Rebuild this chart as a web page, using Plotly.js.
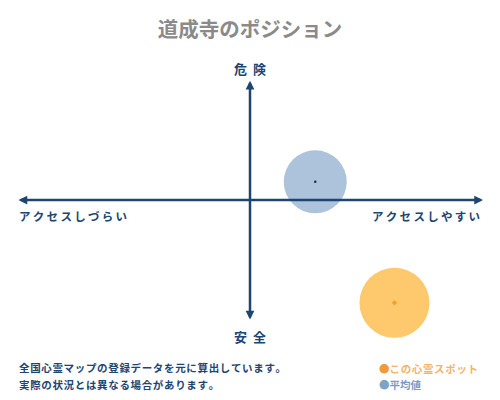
<!DOCTYPE html>
<html>
<head>
<meta charset="utf-8">
<script src="https://cdn.plot.ly/plotly-3.0.1.min.js"></script>
<style>
html,body{margin:0;padding:0;background:#fff;}
#chart{width:500px;height:400px;}
</style>
</head>
<body>
<div id="chart"></div>
<script>
// ---- data ----
const chartTitle = "道成寺のポジション";
const axisTop = "危険";
const axisBottom = "安全";
const axisLeft = "アクセスしづらい";
const axisRight = "アクセスしやすい";
const seriesNames = ["この心霊スポット", "平均値"];
const spotX = [0.62];
const spotY = [-0.85];
const avgX = [0.28];
const avgY = [0.15];
const noteLines = ["全国心霊マップの登録データを元に算出しています。", "実際の状況とは異なる場合があります。"];

// ---- style ----
const FONT = "'Noto Sans CJK JP', 'Noto Sans', sans-serif";
const NAVY = "#1c4571";
const spread = (s, sep) => Array.from(s).join(sep);

const traces = [
  {x: avgX, y: avgY, type: "scatter", mode: "markers", name: seriesNames[1],
   marker: {size: 63, color: "#adc2db", line: {width: 0}}, hoverinfo: "skip", showlegend: false},
  {x: avgX, y: avgY, type: "scatter", mode: "markers",
   marker: {size: 2.5, color: "#1c2d44"}, hoverinfo: "skip", showlegend: false},
  {x: spotX, y: spotY, type: "scatter", mode: "markers", name: seriesNames[0],
   marker: {size: 70, color: "#fdc96c", line: {width: 0}}, hoverinfo: "skip", showlegend: false},
  {x: spotX, y: spotY, type: "scatter", mode: "markers",
   marker: {size: 4, color: "#f5a020", symbol: "diamond"}, hoverinfo: "skip", showlegend: false}
];

const arrowCommon = {showarrow: true, arrowhead: 2, arrowsize: 0.7, arrowwidth: 2.5,
  arrowcolor: NAVY, arrowside: "end+start", text: "", axref: "x", ayref: "y", standoff: 0, startstandoff: 0};

const annotations = [
  Object.assign({x: 0, y: 0.985, ax: 0, ay: -1.0}, arrowCommon),
  Object.assign({x: 1.0, y: 0, ax: -1.0, ay: 0}, arrowCommon),
  {xref: "paper", yref: "paper", x: 0.5, y: 1 - 68/400, text: "<b>" + spread(axisTop, "  ") + "</b>",
   showarrow: false, font: {family: FONT, size: 13, color: NAVY}, xanchor: "center", yanchor: "middle"},
  {xref: "paper", yref: "paper", x: 0.5, y: 1 - 336/400, text: "<b>" + spread(axisBottom, "  ") + "</b>",
   showarrow: false, font: {family: FONT, size: 13, color: NAVY}, xanchor: "center", yanchor: "middle"},
  {xref: "paper", yref: "paper", x: 17/500, y: 1 - 216/400, text: "<b>" + spread(axisLeft, "\u2009") + "</b>",
   showarrow: false, font: {family: FONT, size: 11.5, color: NAVY}, xanchor: "left", yanchor: "middle"},
  {xref: "paper", yref: "paper", x: 482/500, y: 1 - 216/400, text: "<b>" + spread(axisRight, "\u2009") + "</b>",
   showarrow: false, font: {family: FONT, size: 11.5, color: NAVY}, xanchor: "right", yanchor: "middle"},
  {xref: "paper", yref: "paper", x: 17/500, y: 1 - 367/400, text: "<b>" + spread(noteLines[0], "\u200a") + "</b>",
   showarrow: false, font: {family: FONT, size: 10.5, color: NAVY}, xanchor: "left", yanchor: "middle"},
  {xref: "paper", yref: "paper", x: 17/500, y: 1 - 384/400, text: "<b>" + spread(noteLines[1], "\u200a") + "</b>",
   showarrow: false, font: {family: FONT, size: 10.5, color: NAVY}, xanchor: "left", yanchor: "middle"},
  {xref: "paper", yref: "paper", x: 377/500, y: 1 - 368/400,
   text: "<span style='color:#f29a3a'>●</span><b><span style='color:#f2b468'>" + spread(seriesNames[0], "\u200a") + "</span></b>",
   showarrow: false, font: {family: FONT, size: 10.5, color: "#f2b468"}, xanchor: "left", yanchor: "middle"},
  {xref: "paper", yref: "paper", x: 377/500, y: 1 - 384/400,
   text: "<span style='color:#7ea3c6'>●</span><b><span style='color:#7a9cc2'>" + seriesNames[1] + "</span></b>",
   showarrow: false, font: {family: FONT, size: 10.5, color: "#7a9cc2"}, xanchor: "left", yanchor: "middle"}
];

const layout = {
  width: 500, height: 400,
  margin: {l: 0, r: 0, t: 0, b: 0},
  paper_bgcolor: "#fff", plot_bgcolor: "#fff",
  title: {text: "<b>" + chartTitle + "</b>", x: 0.5, xanchor: "center", y: 1 - 30/400, yanchor: "middle",
          font: {family: FONT, size: 20.5, color: "#8a8a8a"}},
  xaxis: {range: [-250/233, 250/233], visible: false, fixedrange: true},
  yaxis: {range: [-200/121, 200/121], visible: false, fixedrange: true},
  annotations: annotations,
  showlegend: false
};

Plotly.newPlot("chart", traces, layout, {displayModeBar: false, staticPlot: true});
</script>
</body>
</html>
